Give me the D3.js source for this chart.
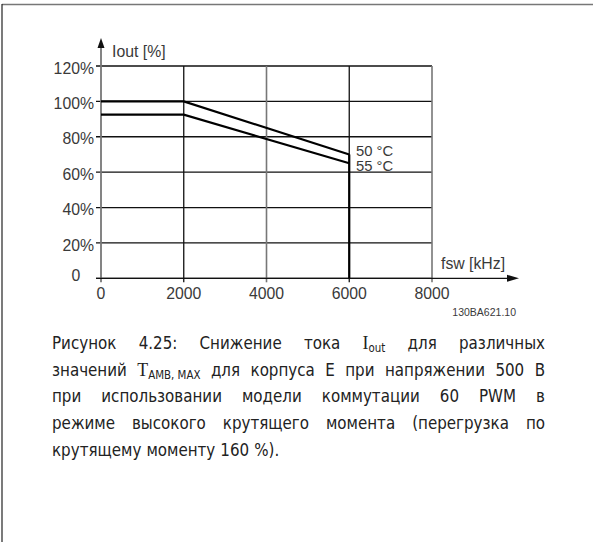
<!DOCTYPE html>
<html><head><meta charset="utf-8">
<script src="https://cdn.jsdelivr.net/npm/d3@7"></script>
<style>body{margin:0;background:#fff}svg{display:block}</style>
</head><body>
<script>
const xTicks = [0, 2000, 4000, 6000, 8000];
const yTicks = [0, 20, 40, 60, 80, 100, 120];
const yTickLabels = ["0", "20%", "40%", "60%", "80%", "100%", "120%"];
const fsw = [0, 2000, 6000];
const curve50 = [100, 100, 70];
const curve55 = [92.5, 92.5, 65];
const seriesNames = ["50 °C", "55 °C"];
const captionLines = [
  ["Рисунок", "4.25:", "Снижение", "тока", "I|out", "для", "различных"],
  ["значений", "T|AMB, MAX", "для", "корпуса", "E", "при", "напряжении", "500", "В"],
  ["при", "использовании", "модели", "коммутации", "60", "PWM", "в"],
  ["режиме", "высокого", "крутящего", "момента", "(перегрузка", "по"],
  ["крутящему", "моменту", "160", "%)."]
];

const W = 593, H = 542;
const svg = d3.select("body").append("svg").attr("width", W).attr("height", H);

// frame
svg.append("line").attr("x1", 2).attr("x2", W).attr("y1", 4.5).attr("y2", 4.5).attr("stroke", "#777").attr("stroke-width", 1.5);
svg.append("line").attr("x1", 2).attr("x2", 2).attr("y1", 4).attr("y2", H).attr("stroke", "#222").attr("stroke-width", 1.2);

const x = d3.scaleLinear().domain([0, 8000]).range([101, 432]);
const y = d3.scaleLinear().domain([0, 120]).range([278.3, 66]);
const g = svg.append("g");
const labCol = "#3a3a3a";
const font = "'Liberation Sans', Arial, sans-serif";
const fs = 15.8;

// horizontal grid
g.selectAll(".hg").data(yTicks).enter().append("line")
  .attr("x1", 96).attr("x2", x(8000)).attr("y1", d => y(d)).attr("y2", d => y(d))
  .attr("stroke", "#111").attr("stroke-width", 1.3);
// vertical grid
g.selectAll(".vg").data(xTicks.slice(1)).enter().append("line")
  .attr("x1", d => x(d)).attr("x2", d => x(d)).attr("y1", y(120)).attr("y2", y(0) + 4)
  .attr("stroke", (d, i) => i % 2 === 0 ? "#111" : "#777").attr("stroke-width", (d, i) => i % 2 === 0 ? 1.3 : 1.6);

// y axis (gray) with arrow
g.append("line").attr("x1", x(0)).attr("x2", x(0)).attr("y1", y(0) + 4).attr("y2", 46)
  .attr("stroke", "#777").attr("stroke-width", 1.8);
g.append("path").attr("d", `M${x(0)},38 L${x(0)-3.5},48 L${x(0)+3.5},48 Z`).attr("fill", "#111");
// x axis with arrow
g.append("line").attr("x1", 96).attr("x2", 510).attr("y1", y(0)).attr("y2", y(0))
  .attr("stroke", "#111").attr("stroke-width", 1.3);
g.append("path").attr("d", `M519,${y(0)} L507,${y(0)-3.5} L507,${y(0)+3.5} Z`).attr("fill", "#111");

// tick labels
g.selectAll(".yl").data(yTicks).enter().append("text")
  .attr("x", (d, i) => i === 0 ? 76 : 94).attr("y", d => y(d) + (d === 0 ? 2.6 : 7.6))
  .attr("text-anchor", (d, i) => i === 0 ? "middle" : "end")
  .attr("font-family", font).attr("font-size", fs).attr("fill", labCol)
  .text((d, i) => yTickLabels[i]);
g.selectAll(".xl").data(xTicks).enter().append("text")
  .attr("x", d => x(d)).attr("y", 298.5).attr("text-anchor", "middle")
  .attr("font-family", font).attr("font-size", fs).attr("fill", labCol)
  .text(d => d);

g.append("text").attr("x", 112).attr("y", 56.5).attr("font-family", font).attr("font-size", fs).attr("fill", labCol).text("Iout [%]");
g.append("text").attr("x", 441).attr("y", 269).attr("font-family", font).attr("font-size", fs).attr("fill", labCol).text("fsw [kHz]");
g.append("text").attr("x", 516).attr("y", 316).attr("text-anchor", "end").attr("font-family", font).attr("font-size", 10.5).attr("fill", labCol).text("130BA621.10");

// curves
const line = d3.line().x(d => x(d[0])).y(d => y(d[1]));
[curve50, curve55].forEach(c => {
  g.append("path").attr("d", line(fsw.map((f, i) => [f, c[i]])))
    .attr("fill", "none").attr("stroke", "#000").attr("stroke-width", 2.2);
});
g.append("line").attr("x1", x(6000)).attr("x2", x(6000)).attr("y1", y(curve50[2])).attr("y2", y(0))
  .attr("stroke", "#000").attr("stroke-width", 2.2);
seriesNames.forEach((n, i) => {
  g.append("text").attr("x", 356).attr("y", [155.5, 170.5][i]).attr("font-family", font)
    .attr("font-size", 14.8).attr("fill", labCol).text(n);
});

// caption, justified
const cfont = "'DejaVu Sans Condensed', 'DejaVu Sans', sans-serif";
const cSize = 16.8, left = 52, right = 545, baseY = 349, lineH = 26.7;
captionLines.forEach((words, li) => {
  const by = baseY + li * lineH;
  const nodes = words.map(w => {
    const t = svg.append("text").attr("y", by).attr("fill", "#222").attr("font-family", cfont).attr("font-size", cSize);
    if (w.includes("|")) {
      const [a, b] = w.split("|");
      t.append("tspan").attr("font-family", "'Liberation Serif', serif").attr("font-size", cSize + 1).text(a);
      t.append("tspan").attr("font-size", cSize * 0.68).attr("dy", 3).text(b);
    } else t.text(w);
    return t;
  });
  const widths = nodes.map(n => n.node().getComputedTextLength());
  const total = d3.sum(widths);
  const last = li === captionLines.length - 1;
  const gap = last ? cSize * 0.3 : (right - left - total) / (words.length - 1);
  let cx = left;
  nodes.forEach((n, i) => { n.attr("x", cx); cx += widths[i] + gap; });
});
</script>
</body></html>
